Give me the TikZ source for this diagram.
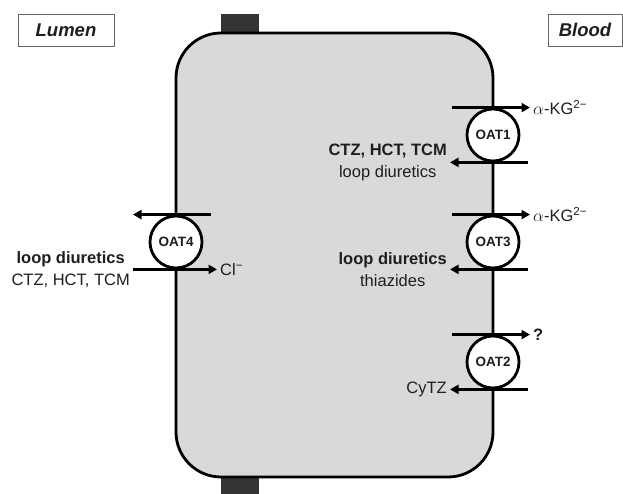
\documentclass[tikz,border=0pt]{standalone}
\usepackage{fontspec}
\setmainfont{Liberation Sans}
\usepackage{tikz}
\usetikzlibrary{arrows.meta,positioning,calc}
\definecolor{cellgray}{HTML}{D9D9D9}
\definecolor{junction}{HTML}{333333}
\definecolor{ink}{HTML}{1E1E1E}

\begin{document}
\begin{tikzpicture}[x=1pt,y=1pt,font=\fontsize{16.5}{22}\selectfont,text=ink,
  cell/.style={draw=black,fill=cellgray,line width=2.8pt,rounded corners=45pt},
  tj/.style={fill=junction},
  oat/.style={circle,draw=black,fill=white,line width=2.8pt,minimum size=52pt,
              inner sep=0pt,font=\bfseries\fontsize{13.5}{15}\selectfont},
  lbl/.style={inner sep=3pt,align=center},
  tag/.style={draw=black!60,fill=white,line width=0.9pt,minimum height=32pt,
              font=\bfseries\itshape\fontsize{18.5}{20}\selectfont},
  ar/.style={-{Triangle[length=8.5pt,width=9pt]},line width=2.8pt,draw=black}]
\useasboundingbox (0,0) rectangle (623,494);
% tight junctions and cell
\fill[tj] (221,461) rectangle (259,480);
\fill[tj] (221,0) rectangle (259,18);
\draw[cell] (176,17) rectangle (493,461);
\node[tag,minimum width=96pt] (lumen) at (66,464) {Lumen};
\node[tag,minimum width=74pt] (blood) at (585,464) {Blood};
% transporters
\node[oat] (oat1) at (493,359) {OAT1};
\node[oat] (oat3) at (493,252) {OAT3};
\node[oat] (oat2) at (493,132) {OAT2};
\node[oat] (oat4) at (176,252) {OAT4};
% OAT1
\coordinate (t1) at ([xshift=-41pt]oat1.north);
\node[lbl,anchor=west] (kg1) at ([xshift=37pt]oat1.north) {$\alpha$-KG\textsuperscript{2−}};
\coordinate (s1) at ([xshift=35pt]oat1.south);
\node[lbl,anchor=east] (d1) at ([xshift=-43pt]oat1.south) {\textbf{CTZ, HCT, TCM}\\loop diuretics};
\draw[ar] (t1) -- (kg1); \draw[ar] (s1) -- (d1);
% OAT3
\coordinate (t3) at ([xshift=-41pt]oat3.north);
\node[lbl,anchor=west] (kg3) at ([xshift=37pt]oat3.north) {$\alpha$-KG\textsuperscript{2−}};
\coordinate (s3) at ([xshift=35pt]oat3.south);
\node[lbl,anchor=east] (d3) at ([xshift=-43pt]oat3.south) {\textbf{loop diuretics}\\thiazides};
\draw[ar] (t3) -- (kg3); \draw[ar] (s3) -- (d3);
% OAT2
\coordinate (t2) at ([xshift=-41pt]oat2.north);
\node[lbl,anchor=west,font=\bfseries\fontsize{16.5}{22}\selectfont] (q2) at ([xshift=37pt]oat2.north) {?};
\coordinate (s2) at ([xshift=35pt]oat2.south);
\node[lbl,anchor=east] (d2) at ([xshift=-43pt]oat2.south) {CyTZ};
\draw[ar] (t2) -- (q2); \draw[ar] (s2) -- (d2);
% OAT4
\coordinate (t4) at ([xshift=35pt]oat4.north);
\coordinate (e4) at ([xshift=-43pt]oat4.north);
\node[lbl,anchor=east] (d4) at ([xshift=-43pt]oat4.south) {\textbf{loop diuretics}\\CTZ, HCT, TCM};
\node[lbl,anchor=west] (cl) at ([xshift=41pt]oat4.south) {Cl\textsuperscript{−}};
\draw[ar] (t4) -- (e4); \draw[ar] (d4) -- (cl);
\end{tikzpicture}
\end{document}
